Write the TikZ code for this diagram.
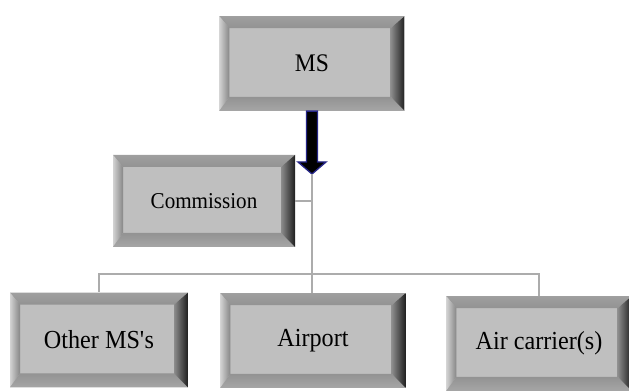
\documentclass[tikz,border=0pt]{standalone}
\usepackage{fontspec}
\setmainfont{Liberation Serif}[FakeStretch=0.93]
\usetikzlibrary{calc}

\begin{document}
\begin{tikzpicture}[
    x=0.75pt, y=-0.75pt,
    bevelbox/.style={rectangle, inner sep=0pt, fill=gray!50,
        minimum width=139pt, minimum height=71pt,
        font=\fontsize{19.5}{21}\selectfont,
        path picture={
            \coordinate (nw) at (path picture bounding box.north west);
            \coordinate (ne) at (path picture bounding box.north east);
            \coordinate (se) at (path picture bounding box.south east);
            \coordinate (sw) at (path picture bounding box.south west);
            \coordinate (inw) at ([shift={(7.5pt,-9pt)}]nw);
            \coordinate (ine) at ([shift={(-10.5pt,-9pt)}]ne);
            \coordinate (ise) at ([shift={(-10.5pt,10.5pt)}]se);
            \coordinate (isw) at ([shift={(7.5pt,10.5pt)}]sw);
            \path[top color=gray!75, middle color=white, bottom color=gray!85] (nw) -- (ne) -- (ine) -- (inw) -- cycle;
            \path[left color=gray!35, right color=gray!95] (nw) -- (sw) -- (isw) -- (inw) -- cycle;
            \path[top color=gray!85, middle color=white, bottom color=gray!70] (sw) -- (se) -- (ise) -- (isw) -- cycle;
            \path[left color=black!45, right color=black!88] (ne) -- (se) -- (ise) -- (ine) -- cycle;
        }},
    conn/.style={draw=gray!65, line width=1.1pt},
    bigarrow/.style={fill=black, draw=blue!45!black!85, line width=1pt, line join=miter}
]
\useasboundingbox (0,0) rectangle (629,392);

% Boxes
\node[bevelbox, font=\fontsize{19}{21}\selectfont] (ms) at (312,63.5) {MS};
\node[bevelbox, minimum width=136.5pt, minimum height=69pt, font=\fontsize{17}{19}\selectfont] (comm) at (204,201) {Commission};
\node[bevelbox, minimum width=133.5pt] (other) at (99,340) {Other MS\textquotesingle s};
\node[bevelbox] (airport) at (313,340.5) {Airport};
\node[bevelbox] (carrier) at (539,343.5) {Air carrier(s)};

% Junctions
\coordinate (tip) at (312,174);
\coordinate (bus) at (312,274);

% Thick arrow from MS
\draw[bigarrow] ($(ms.south)+(-5.5,0)$) -- ($(tip)+(-5.5,-12)$) -- ($(tip)+(-14,-12)$)
    -- (tip) -- ($(tip)+(14,-12)$) -- ($(tip)+(5.5,-12)$) -- ($(ms.south)+(5.5,0)$) -- cycle;

% Connectors
\draw[conn] (tip) -- (bus);
\draw[conn] (comm.east) -- (comm.east -| tip);
\draw[conn] (bus) -| (other.north);
\draw[conn] (bus) -- (airport.north -| bus);
\draw[conn] (bus) -| (carrier.north);
\end{tikzpicture}
\end{document}
